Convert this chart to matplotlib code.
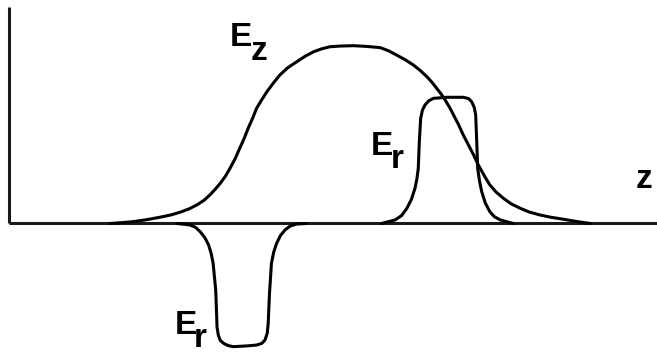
import matplotlib
matplotlib.use("Agg")
import matplotlib.pyplot as plt

# Longitudinal field E_z along the axis (arbitrary units, peak ~ 1)
ez_z = [15.6, 17.5, 19.1, 21.2, 23.3, 25.0, 26.4, 27.8, 29.0, 30.1, 31.0, 31.8,
        32.6, 33.4, 34.1, 34.9, 35.6, 36.3, 36.9, 37.6, 38.2, 39.0, 39.8, 40.8,
        41.8, 43.0, 44.4, 45.7, 47.0, 48.3, 49.5, 51.1, 53.1, 55.2, 57.3, 58.6,
        59.8, 61.1, 62.4, 63.5, 64.5, 65.3, 66.0, 66.7, 67.3, 68.0, 68.6, 69.4,
        70.1, 70.9, 71.7, 72.3, 73.0, 73.6, 74.2, 75.2, 76.3, 77.5, 78.9, 80.3,
        81.9, 83.6, 85.5, 87.6, 89.7]
ez_val = [0.0, 0.005, 0.010, 0.021, 0.035, 0.048, 0.063, 0.082, 0.104, 0.130,
          0.160, 0.191, 0.225, 0.265, 0.309, 0.363, 0.421, 0.477, 0.533, 0.590,
          0.645, 0.693, 0.738, 0.787, 0.832, 0.872, 0.906, 0.937, 0.962, 0.979,
          0.990, 0.994, 0.996, 0.992, 0.985, 0.967, 0.944, 0.918, 0.888, 0.856,
          0.822, 0.790, 0.757, 0.725, 0.692, 0.650, 0.608, 0.552, 0.496, 0.440,
          0.384, 0.336, 0.290, 0.252, 0.216, 0.175, 0.141, 0.110, 0.085, 0.064,
          0.048, 0.035, 0.024, 0.011, 0.0]

# Radial field E_r at the entrance (negative lobe)
er_in_z = [25.9, 27.9, 28.8, 29.5, 30.2, 30.8, 31.2, 31.5, 31.9, 32.05, 32.1,
           32.3, 32.6, 33.1, 33.8, 34.6, 36.7, 38.2, 39.0, 39.5, 39.85, 40.0,
           40.2, 40.5, 40.85, 41.3, 41.9, 42.6, 43.4, 44.4, 45.9]
er_in_val = [0.0, -0.008, -0.022, -0.046, -0.078, -0.120, -0.168, -0.223,
             -0.373, -0.522, -0.580, -0.625, -0.655, -0.671, -0.684, -0.690,
             -0.686, -0.681, -0.672, -0.653, -0.615, -0.559, -0.391, -0.223,
             -0.160, -0.111, -0.067, -0.036, -0.014, -0.003, 0.0]

# Radial field E_r at the exit (positive lobe)
er_out_z = [57.5, 59.6, 60.6, 61.4, 62.1, 62.65, 62.95, 63.16, 63.32, 63.53,
            63.8, 64.2, 64.8, 65.5, 67.55, 70.1, 70.9, 71.4, 71.8, 72.02, 72.18,
            72.33, 72.6, 72.95, 73.5, 74.2, 74.9, 75.8, 77.8]
er_out_val = [0.0, 0.020, 0.045, 0.085, 0.135, 0.197, 0.250, 0.309, 0.458,
              0.589, 0.635, 0.664, 0.688, 0.701, 0.707, 0.707, 0.700, 0.682,
              0.650, 0.608, 0.458, 0.309, 0.240, 0.178, 0.115, 0.066, 0.038,
              0.020, 0.0]

W, H, DPI = 657, 352, 100
fig = plt.figure(figsize=(W / DPI, H / DPI), dpi=DPI)
ax = fig.add_axes([0, 0, 1, 1])
ax.set_xlim(-1.39, 100.0)
ax.set_ylim(-0.720, 1.252)
ax.axis("off")

# Axes drawn as plain lines
axis_kw = dict(color="#1a1a1a", lw=2.2, solid_capstyle="butt")
ax.plot([0, 0], [0, 1.213], **axis_kw)
ax.plot([0, 101], [0, 0], **axis_kw)

curve_kw = dict(color="black", lw=2.2, solid_joinstyle="round",
                solid_capstyle="round")
ax.plot(ez_z, ez_val, **curve_kw)
ax.plot(er_in_z, er_in_val, **curve_kw)
ax.plot(er_out_z, er_out_val, **curve_kw)

txt_kw = dict(family="Liberation Sans", weight="bold", fontsize=24,
              ha="left", va="baseline", color="black")
ax.text(34.0, 0.994, "E", **txt_kw)
ax.text(37.35, 0.916, "z", **txt_kw)
ax.text(55.8, 0.384, "E", **txt_kw)
ax.text(58.95, 0.311, "r", **txt_kw)
ax.text(25.55, -0.619, "E", **txt_kw)
ax.text(28.47, -0.692, "r", **txt_kw)
ax.text(96.76, 0.199, "z", **txt_kw)

fig.savefig("out.png", dpi=DPI)
